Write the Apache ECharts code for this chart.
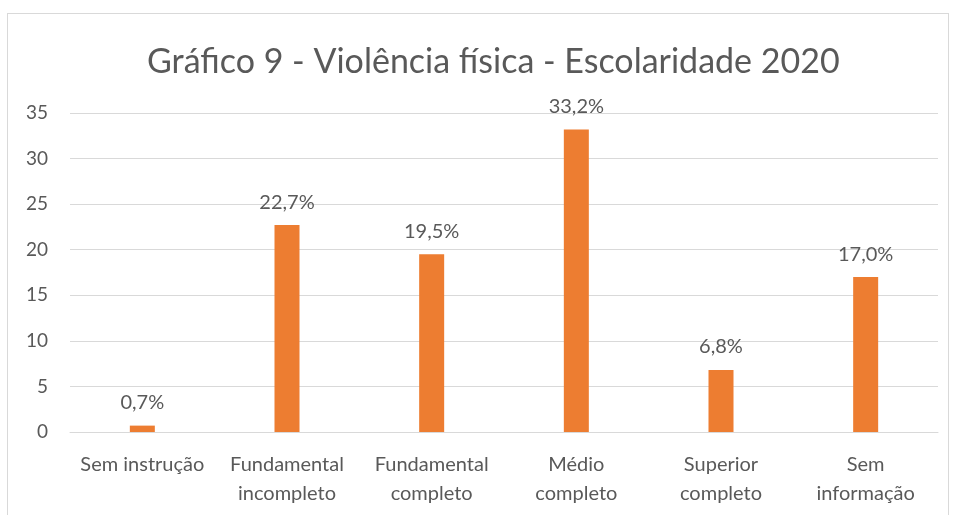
<!DOCTYPE html>
<html>
<head>
<meta charset="utf-8">
<script src="https://cdn.jsdelivr.net/npm/echarts@6/dist/echarts.min.js"></script>
<style>
  html, body { margin: 0; padding: 0; background: #fff; }
  #chart { width: 955px; height: 515px; }
  .frame { position: absolute; left: 7px; top: 13px; width: 942px; height: 520px; border: 1px solid #d9d9d9; box-sizing: border-box; }
</style>
</head>
<body>
<div class="frame"></div>
<div id="chart"></div>
<script>
// categorias e valores (%)
const categories = ['Sem instrução', 'Fundamental\nincompleto', 'Fundamental\ncompleto', 'Médio\ncompleto', 'Superior\ncompleto', 'Sem\ninformação']
const values = [0.7, 22.7, 19.5, 33.2, 6.8, 17.0]
const titleText = 'Gráfico 9 - Violência física - Escolaridade 2020'

const font = "Lato, sans-serif"

const chart = echarts.init(document.getElementById('chart'))
chart.setOption({
  animation: false,
  title: {
    text: titleText,
    left: 142,
    top: 40,
    textStyle: { fontFamily: font, fontSize: 34, fontWeight: 'normal', color: '#595959' },
  },
  grid: { left: 70, right: 17, top: 113, bottom: 83 },
  xAxis: {
    type: 'category',
    data: categories,
    axisLine: { lineStyle: { color: '#d9d9d9' } },
    axisTick: { show: false },
    axisLabel: { fontFamily: font, fontSize: 20, color: '#595959', lineHeight: 29, margin: 18, interval: 0 },
  },
  yAxis: {
    type: 'value',
    min: 0,
    max: 35,
    interval: 5,
    axisLine: { show: false },
    axisTick: { show: false },
    splitLine: { lineStyle: { color: '#d9d9d9' } },
    axisLabel: { fontFamily: font, fontSize: 19, color: '#595959', margin: 22 },
  },
  series: [
    {
      type: 'bar',
      data: values,
      barWidth: 25,
      itemStyle: { color: '#ed7d31' },
      label: {
        show: true,
        position: 'top',
        distance: 13,
        fontFamily: font,
        fontSize: 20,
        color: '#595959',
        formatter: (p) => p.value.toFixed(1).replace('.', ',') + '%',
      },
    },
  ],
})
</script>
</body>
</html>
